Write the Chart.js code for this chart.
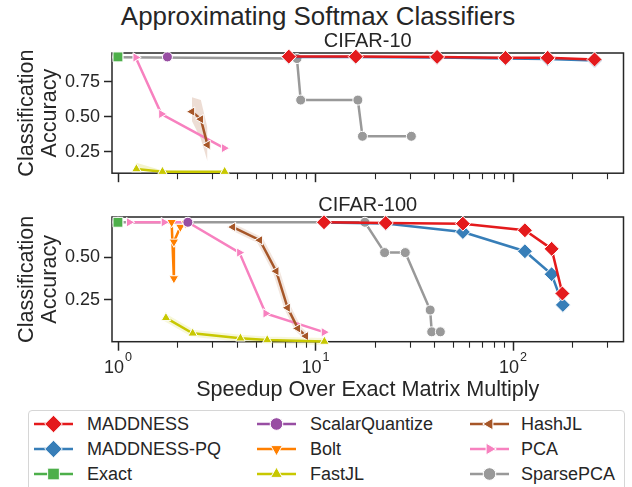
<!DOCTYPE html>
<html>
<head>
<meta charset="utf-8">
<script src="https://cdn.jsdelivr.net/npm/chart.js@4.4.1/dist/chart.umd.min.js"></script>
<style>
  body { margin: 0; background: #fff; overflow: hidden; }
  #wrap { position: relative; width: 632px; height: 487px; font-family: "Liberation Sans", Arial, sans-serif; color: #262626; }
  #title { position: absolute; left: 2px; top: 4px; width: 632px; text-align: center; font-size: 25.9px; line-height: 1; }
  canvas.panel { position: absolute; left: 0; }
  #legend { position: absolute; left: 28px; top: 410px; width: 595px; height: 100px; border: 1px solid #d6d6d6; border-radius: 4px; background: #fff; }
  .item { position: absolute; font-size: 18px; line-height: 20px; white-space: nowrap; }
  .item canvas { position: absolute; left: 0; top: 0; }
  .item span { position: absolute; top: 0; }
</style>
</head>
<body>
<div id="wrap">
  <div id="title">Approximating Softmax Classifiers</div>
  <canvas id="chart10" class="panel" width="632" height="159" style="top:29px"></canvas>
  <canvas id="chart100" class="panel" width="632" height="212" style="top:193px"></canvas>
  <div id="legend"></div>
</div>
<script>
// x axis ticks (speedup, log scale)
const xMajorTicks = [1, 10, 100];
const xMajorExp = ["0", "1", "2"];
const xMinorTicks = [2, 3, 4, 5, 6, 7, 8, 9, 20, 30, 40, 50, 60, 70, 80, 90, 200, 300];
const xMin = 0.933;
const xMax = 363;

// CIFAR-10
const c10Ticks = [0.25, 0.5, 0.75];
const c10MaddX = [7.33, 16.0, 41.3, 91.7, 150, 259];
const c10MaddY = [0.932, 0.932, 0.93, 0.923, 0.923, 0.912];
const c10PqX = [7.33, 16.0, 41.3, 91.7, 150, 259];
const c10PqY = [0.93, 0.93, 0.926, 0.918, 0.915, 0.905];
const c10ExactX = [1];
const c10ExactY = [0.93];
const c10SqX = [1.78];
const c10SqY = [0.93];
const c10BoltX = [];
const c10BoltY = [];
const c10FastX = [1.24, 1.68, 3.47];
const c10FastY = [0.125, 0.106, 0.106];
const c10FastHi = [0.17, 0.115, 0.106];
const c10HashX = [2.37, 2.63, 2.84];
const c10HashY = [0.537, 0.483, 0.298];
const c10HashHi = [0.64, 0.62, 0.42];
const c10HashLo = [0.47, 0.34, 0.18];
const c10PcaX = [1.23, 1.66, 3.45];
const c10PcaY = [0.926, 0.52, 0.275];
const c10SparseX = [1, 8.06, 8.42, 16.4, 17.3, 30.6];
const c10SparseY = [0.928, 0.918, 0.62, 0.62, 0.36, 0.36];

// CIFAR-100
const c100Ticks = [0.25, 0.5];
const c100MaddX = [11.05, 22.7, 55.8, 115, 157, 178];
const c100MaddY = [0.705, 0.701, 0.697, 0.658, 0.549, 0.287];
const c100PqX = [11.05, 22.7, 55.8, 115, 157, 179];
const c100PqY = [0.703, 0.698, 0.648, 0.535, 0.40, 0.22];
const c100ExactX = [1];
const c100ExactY = [0.705];
const c100SqX = [2.26];
const c100SqY = [0.705];
const c100BoltX = [1.87, 1.92, 1.92, 2.07, 2.2];
const c100BoltY = [0.705, 0.375, 0.59, 0.677, 0.70];
const c100FastX = [1.75, 2.39, 4.17, 5.7, 11.1];
const c100FastY = [0.144, 0.053, 0.024, 0.014, 0.005];
const c100HashX = [3.82, 5.23, 6.33, 7.23, 8.15, 8.94];
const c100HashY = [0.677, 0.60, 0.418, 0.203, 0.082, 0.037];
const c100PcaX = [1.14, 1.71, 2.26, 4.12, 5.6, 11.05];
const c100PcaY = [0.705, 0.705, 0.705, 0.527, 0.17, 0.06];
const c100SparseX = [1, 17.8, 22.4, 28.5, 38.1, 38.8, 42.9];
const c100SparseY = [0.705, 0.705, 0.527, 0.527, 0.19, 0.062, 0.062];

const ink = "#262626";
const fontName = "'Liberation Sans', Arial, sans-serif";
Chart.defaults.font.family = fontName;
Chart.defaults.color = ink;

// methods, in legend order
const methods = [
  { name: "MADDNESS", color: "#e41a1c", style: "rectRot", rot: 0, r: 7.5 },
  { name: "MADDNESS-PQ", color: "#377eb8", style: "rectRot", rot: 0, r: 7.5 },
  { name: "Exact", color: "#4daf4a", style: "rect", rot: 0, r: 7 },
  { name: "ScalarQuantize", color: "#984ea3", style: "circle", rot: 0, r: 5 },
  { name: "Bolt", color: "#ff7f00", style: "triangle", rot: 180, r: 5.5 },
  { name: "FastJL", color: "#c8c800", style: "triangle", rot: 0, r: 5.5 },
  { name: "HashJL", color: "#a65628", style: "triangle", rot: -90, r: 5.5 },
  { name: "PCA", color: "#f781bf", style: "triangle", rot: 90, r: 5.5 },
  { name: "SparsePCA", color: "#999999", style: "circle", rot: 0, r: 5 },
];

function pts(xs, ys) {
  return xs.map((x, i) => ({ x: x, y: ys[i] }));
}

function methodSet(m, data) {
  return {
    label: m.name,
    data: data,
    showLine: true,
    borderColor: m.color,
    backgroundColor: m.color,
    borderWidth: 2.5,
    pointStyle: m.style,
    pointRotation: m.rot,
    pointRadius: m.r,
    pointBorderColor: "#ffffff",
    pointBorderWidth: 1,
    pointBackgroundColor: m.color,
    clip: false,
  };
}

function bandLine(data, color, fill) {
  return {
    label: "",
    data: data,
    showLine: true,
    borderWidth: 0,
    borderColor: "rgba(0,0,0,0)",
    backgroundColor: color,
    pointRadius: 0,
    fill: fill,
    clip: false,
  };
}

function haloLine(data, color) {
  return {
    label: "",
    data: data,
    showLine: true,
    borderWidth: 7,
    borderColor: color,
    pointRadius: 0,
    clip: false,
  };
}

// box round the plot, x tick marks (longer for powers of ten) and 10^n labels
function framePlugin(showLabels) {
  return {
    id: "frame",
    beforeDatasetsDraw(chart) {
      const { ctx, chartArea: a, scales } = chart;
      ctx.save();
      ctx.strokeStyle = ink;
      ctx.lineWidth = 1.5;
      ctx.strokeRect(a.left, a.top, a.right - a.left, a.bottom - a.top);
      scales.x.ticks.forEach((t) => {
        const major = xMajorTicks.includes(t.value);
        const px = Math.round(scales.x.getPixelForValue(t.value)) + 0.5;
        ctx.lineWidth = major ? 1.5 : 1.1;
        ctx.beginPath();
        ctx.moveTo(px, a.bottom);
        ctx.lineTo(px, a.bottom + (major ? 9 : 6));
        ctx.stroke();
      });
      if (showLabels) {
        ctx.fillStyle = ink;
        ctx.textBaseline = "alphabetic";
        ctx.textAlign = "left";
        const base = a.bottom + 31.6;
        xMajorTicks.forEach((v, i) => {
          const px = scales.x.getPixelForValue(v);
          ctx.font = "18px " + fontName;
          const w1 = ctx.measureText("10").width;
          ctx.font = "12.6px " + fontName;
          const w2 = ctx.measureText(xMajorExp[i]).width;
          const start = px - (w1 + w2 + 1) / 2;
          ctx.font = "18px " + fontName;
          ctx.fillText("10", start, base);
          ctx.font = "12.6px " + fontName;
          ctx.fillText(xMajorExp[i], start + w1 + 1, base - 12.3);
        });
      }
      ctx.restore();
    },
  };
}

function makeChart(id, title, datasets, yMin, yMax, yTicks, bottom) {
  return new Chart(document.getElementById(id), {
    type: "scatter",
    data: { datasets: datasets },
    plugins: [framePlugin(bottom)],
    options: {
      responsive: false,
      animation: false,
      layout: { padding: { left: 0, right: 2, top: 0, bottom: 0 } },
      plugins: {
        legend: { display: false },
        tooltip: { enabled: false },
        title: {
          display: true,
          text: title,
          color: ink,
          fullSize: false,
          font: { size: 20, weight: "normal", lineHeight: 1.2 },
          padding: { top: 0, bottom: 0 },
          align: "center",
        },
      },
      scales: {
        x: {
          type: "logarithmic",
          min: xMin,
          max: xMax,
          afterBuildTicks: (s) => {
            s.ticks = xMajorTicks
              .concat(xMinorTicks)
              .sort((a, b) => a - b)
              .map((v) => ({ value: v, major: xMajorTicks.includes(v) }));
          },
          ticks: { display: false },
          grid: { display: false, drawTicks: false },
          border: { display: false },
          title: {
            display: bottom,
            text: "Speedup Over Exact Matrix Multiply",
            color: ink,
            font: { size: 21.6, lineHeight: 1.2 },
            padding: { top: 0, bottom: 2 },
          },
          afterFit: (s) => {
            s.height = bottom ? 63.3 : 10.7;
          },
        },
        y: {
          min: yMin,
          max: yMax,
          afterBuildTicks: (s) => {
            s.ticks = yTicks.map((v) => ({ value: v }));
          },
          ticks: {
            padding: 4,
            color: ink,
            font: { size: 18 },
            callback: (v) => v.toFixed(2),
          },
          grid: {
            drawOnChartArea: false,
            drawTicks: true,
            tickLength: 8,
            tickWidth: 1.5,
            tickColor: ink,
          },
          border: { display: false },
          title: {
            display: true,
            text: ["Classification", "Accuracy"],
            color: ink,
            font: { size: 21.6, lineHeight: 1.07 },
            padding: { top: 15.5, bottom: 0 },
          },
          afterFit: (s) => {
            s.width = 112;
          },
        },
      },
    },
  });
}

const m = methods;

makeChart(
  "chart10",
  "CIFAR-10",
  [
    methodSet(m[0], pts(c10MaddX, c10MaddY)),
    methodSet(m[1], pts(c10PqX, c10PqY)),
    methodSet(m[2], pts(c10ExactX, c10ExactY)),
    methodSet(m[3], pts(c10SqX, c10SqY)),
    methodSet(m[4], pts(c10BoltX, c10BoltY)),
    methodSet(m[5], pts(c10FastX, c10FastY)),
    methodSet(m[6], pts(c10HashX, c10HashY)),
    methodSet(m[7], pts(c10PcaX, c10PcaY)),
    methodSet(m[8], pts(c10SparseX, c10SparseY)),
    bandLine(pts(c10HashX, c10HashHi), "rgba(166,86,40,0.2)", false),
    bandLine(pts(c10HashX, c10HashLo), "rgba(166,86,40,0.2)", "-1"),
    bandLine(pts(c10FastX, c10FastHi), "rgba(200,200,0,0.2)", false),
    bandLine(pts(c10FastX, c10FastY), "rgba(200,200,0,0.2)", "-1"),
  ],
  0.095,
  0.958,
  c10Ticks,
  false
);

makeChart(
  "chart100",
  "CIFAR-100",
  [
    methodSet(m[0], pts(c100MaddX, c100MaddY)),
    methodSet(m[1], pts(c100PqX, c100PqY)),
    methodSet(m[2], pts(c100ExactX, c100ExactY)),
    methodSet(m[3], pts(c100SqX, c100SqY)),
    methodSet(m[4], pts(c100BoltX, c100BoltY)),
    methodSet(m[5], pts(c100FastX, c100FastY)),
    methodSet(m[6], pts(c100HashX, c100HashY)),
    methodSet(m[7], pts(c100PcaX, c100PcaY)),
    methodSet(m[8], pts(c100SparseX, c100SparseY)),
    haloLine(pts(c100HashX, c100HashY), "rgba(166,86,40,0.15)"),
    haloLine(pts(c100FastX, c100FastY), "rgba(200,200,0,0.15)"),
  ],
  0.004,
  0.736,
  c100Ticks,
  true
);

// legend: three columns, filled top to bottom
const legend = document.getElementById("legend");
const colLine = [34, 257, 470];
const colText = [87, 310, 521];
const rowY = [423.5, 448.5, 474];
methods.forEach((meth, i) => {
  const col = Math.floor(i / 3);
  const row = i % 3;
  const item = document.createElement("div");
  item.className = "item";
  item.style.left = colLine[col] - 29 + "px";
  item.style.top = rowY[row] - 10 - 411 + "px";
  item.style.width = "200px";
  item.style.height = "20px";
  const cv = document.createElement("canvas");
  cv.width = 40;
  cv.height = 20;
  const ctx = cv.getContext("2d");
  ctx.strokeStyle = meth.color;
  ctx.lineWidth = 2.5;
  ctx.beginPath();
  ctx.moveTo(0, 10);
  ctx.lineTo(39, 10);
  ctx.stroke();
  ctx.fillStyle = meth.color;
  ctx.strokeStyle = "#ffffff";
  ctx.lineWidth = 1;
  Chart.helpers.drawPoint(
    ctx,
    { pointStyle: meth.style, rotation: meth.rot, radius: meth.r + 1.3, borderWidth: 1 },
    19.5,
    10
  );
  item.appendChild(cv);
  const label = document.createElement("span");
  label.textContent = meth.name;
  label.style.left = colText[col] - colLine[col] + "px";
  item.appendChild(label);
  legend.appendChild(item);
});
</script>
</body>
</html>
